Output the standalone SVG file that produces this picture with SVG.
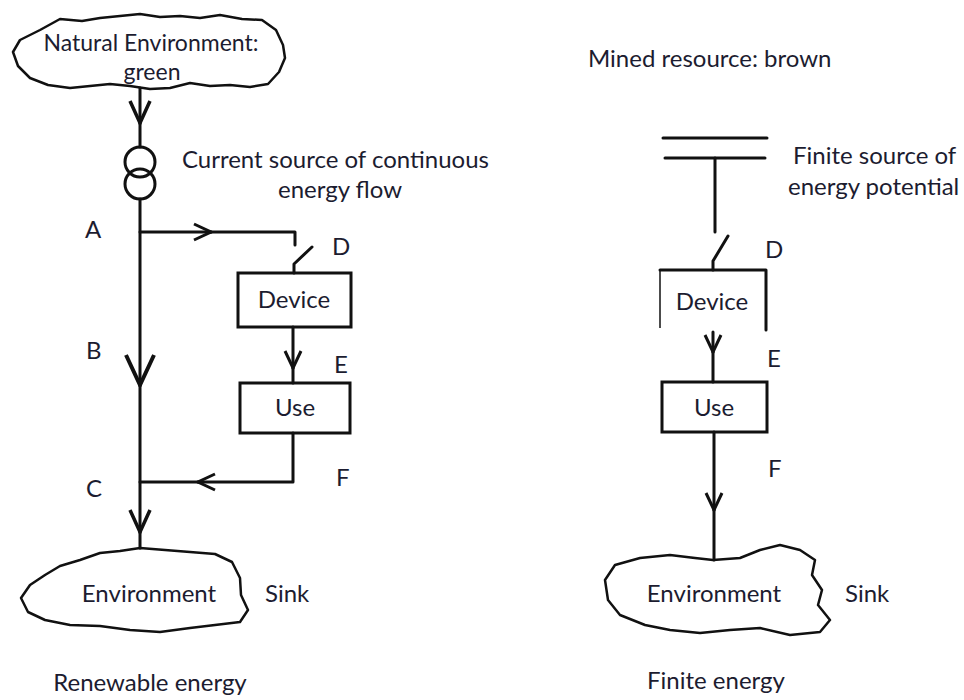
<svg xmlns="http://www.w3.org/2000/svg" width="964" height="700" viewBox="0 0 964 700">
<style>
text{font-family:Lato,"Open Sans","Liberation Sans",sans-serif;font-size:24px;fill:#1c1c30}
.c{text-anchor:middle}
.sm{font-size:23px}
.ln{fill:none;stroke:#111;stroke-width:3;stroke-linecap:round;stroke-linejoin:round}
.thin{fill:none;stroke:#111;stroke-width:1.5}
.box{fill:#fff;stroke:#111;stroke-width:3}
.cloud{fill:#fff;stroke:#111;stroke-width:2.5;stroke-linejoin:round}
</style>
<defs>
<marker id="aS" markerUnits="userSpaceOnUse" viewBox="-20 -12 22 24" markerWidth="22" markerHeight="24" refX="0" refY="0" orient="auto"><path d="M-17,-8 L0,0 L-17,8" fill="none" stroke="#111" stroke-width="3"/></marker>
<marker id="aM" markerUnits="userSpaceOnUse" viewBox="-26 -14 28 28" markerWidth="28" markerHeight="28" refX="0" refY="0" orient="auto"><path d="M-22,-10 L0,0 L-22,10" fill="none" stroke="#111" stroke-width="3.5"/></marker>
<marker id="aL" markerUnits="userSpaceOnUse" viewBox="-34 -18 36 36" markerWidth="36" markerHeight="36" refX="0" refY="0" orient="auto"><path d="M-30,-14 L0,0 L-30,14" fill="none" stroke="#111" stroke-width="4"/></marker>
</defs>

<g id="cloud-top">
<path class="cloud" d="M40,30 L60,19 L82,21 L100,18 L120,16 L140,14 L160,17 L180,16 L200,18 L220,15 L242,19 L262,20 L276,30 L283,45 L285,58 L279,72 L268,84 L250,87 L230,85 L210,86 L190,83 L170,88 L150,89 L130,86 L110,84 L90,86 L70,88 L48,85 L30,78 L18,66 L13,52 L20,40 Z"/>
<text class="c sm" x="151" y="51">Natural Environment:</text>
<text class="c sm" x="152" y="80">green</text>
</g>

<g id="current-source">
<circle cx="140" cy="162" r="15" fill="none" stroke="#111" stroke-width="3"/>
<circle cx="140" cy="184" r="15" fill="none" stroke="#111" stroke-width="3"/>
<text x="182" y="168">Current source of continuous</text>
<text class="c" x="340" y="198">energy flow</text>
</g>

<g id="device-left">
<rect class="box" x="238" y="273" width="113" height="54"/>
<text class="c" x="294" y="308">Device</text>
</g>
<g id="use-left">
<rect class="box" x="240" y="383" width="110" height="50"/>
<text class="c" x="295" y="416">Use</text>
</g>

<g id="cloud-bottom-left">
<path class="cloud" d="M140,548 L165,550 L190,552 L215,554 L232,562 L240,578 L241,595 L248,610 L240,622 L215,625 L190,628 L160,632 L130,630 L100,626 L70,625 L45,620 L28,612 L21,598 L30,585 L45,575 L60,566 L80,560 L100,553 L120,551 Z"/>
<text class="c" x="149" y="602">Environment</text>
<text x="265" y="602">Sink</text>
</g>

<g id="labels-left">
<text x="85" y="238">A</text>
<text x="86" y="359">B</text>
<text x="86" y="497">C</text>
<text x="332" y="255">D</text>
<text x="334" y="373">E</text>
<text x="336" y="486">F</text>
<text class="c" x="150" y="691">Renewable energy</text>
</g>

<g id="source-finite">
<line class="ln" x1="663" y1="138" x2="767" y2="138"/>
<line class="ln" x1="665" y1="158" x2="765" y2="158"/>
<text x="588" y="67">Mined resource: brown</text>
<text x="793" y="164">Finite source of</text>
<text x="788" y="195">energy potential</text>
</g>

<g id="device-right">
<path class="ln" d="M660,270 L766,270 M766,270 L766,330"/>
<path class="thin" d="M660,270 L660,328"/>
<text class="c" x="712" y="310">Device</text>
</g>
<g id="use-right">
<rect class="box" x="662" y="382" width="105" height="50"/>
<text class="c" x="714" y="416">Use</text>
</g>

<g id="cloud-bottom-right">
<path class="cloud" d="M713,560 L740,558 L760,550 L780,545 L800,550 L815,560 L812,575 L822,590 L818,605 L830,620 L820,632 L790,635 L760,628 L730,630 L700,633 L670,630 L645,625 L620,615 L608,600 L605,580 L615,565 L640,558 L670,555 L695,558 Z"/>
<text class="c" x="714" y="602">Environment</text>
<text x="845" y="602">Sink</text>
</g>

<g id="labels-right">
<text x="765" y="258">D</text>
<text x="767" y="367">E</text>
<text x="768" y="477">F</text>
<text class="c" x="716" y="689">Finite energy</text>
</g>

<g id="connectors">
<path class="ln" d="M140,88 L140,123" marker-end="url(#aM)"/>
<path class="ln" d="M140,123 L140,147"/>
<path class="ln" d="M140,199 L140,385" marker-end="url(#aL)"/>
<path class="ln" d="M140,385 L140,532" marker-end="url(#aM)"/>
<path class="ln" d="M140,532 L140,548"/>
<path class="ln" d="M140,232 L211,232" marker-end="url(#aS)"/>
<path class="ln" d="M211,232 L295,232 L295,245"/>
<path class="ln" d="M294,273 L294,264 L312,247"/>
<path class="ln" d="M293,327 L293,368" marker-end="url(#aS)"/>
<path class="ln" d="M293,368 L293,383"/>
<path class="ln" d="M293,433 L293,482 L198,482" marker-end="url(#aS)"/>
<path class="ln" d="M198,482 L140,482"/>
<path class="ln" d="M715,158 L715,232"/>
<path class="ln" d="M713,270 L713,261 L728,236"/>
<path class="ln" d="M713,332 L713,352" marker-end="url(#aS)"/>
<path class="ln" d="M713,352 L713,382"/>
<path class="ln" d="M714,432 L714,510" marker-end="url(#aS)"/>
<path class="ln" d="M714,510 L714,560"/>
</g>
</svg>
